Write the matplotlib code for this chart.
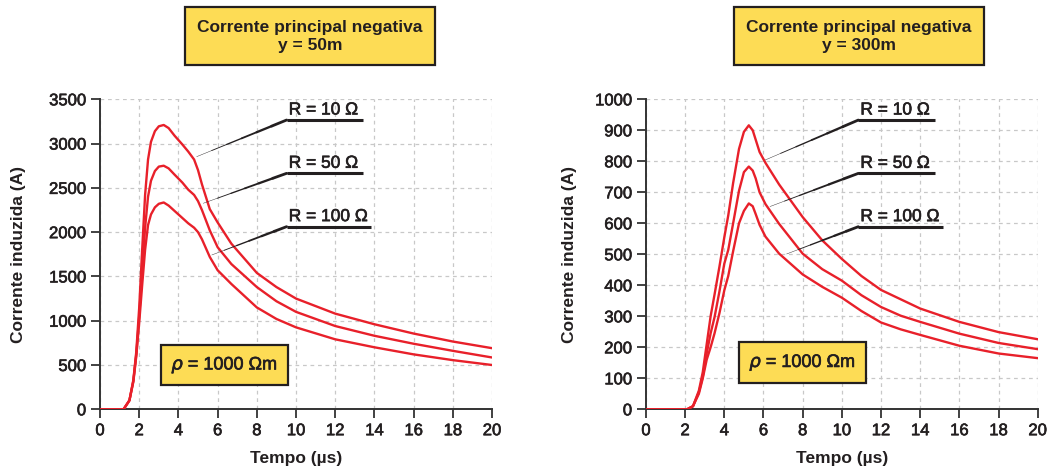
import matplotlib
matplotlib.use('Agg')
import numpy as np
import matplotlib.pyplot as plt
import matplotlib.patheffects as pe
from matplotlib.collections import LineCollection

plt.rcParams['font.family'] = ['Liberation Sans', 'DejaVu Sans']
plt.rcParams['mathtext.fontset'] = 'dejavusans'

RED = '#e8202a'
YELLOW = '#fddc55'
INK = '#231f20'
MEDIUM = [pe.withStroke(linewidth=0.45, foreground=INK)]

# ---- left panel: y = 50 m ----
t50 = [0, 1.2, 1.5, 1.7, 1.85, 2.0, 2.15, 2.3, 2.45, 2.6, 2.8, 3.0, 3.25, 3.5, 3.8, 4.2, 4.5, 4.8,
       5.0, 5.2, 5.6, 6.0, 6.7, 8, 9, 10, 12, 14, 16, 18, 20]
i50_r10 = [0, 0, 100, 330, 650, 1150, 1800, 2420, 2820, 3020, 3140, 3195, 3210, 3175, 3090, 2990, 2910, 2820,
           2700, 2540, 2260, 2110, 1870, 1540, 1380, 1250, 1080, 960, 855, 765, 690]
i50_r50 = [0, 0, 100, 320, 620, 1050, 1550, 2050, 2400, 2580, 2690, 2740, 2750, 2720, 2650, 2560, 2480, 2420,
           2350, 2250, 2020, 1830, 1640, 1380, 1220, 1100, 940, 830, 740, 660, 585]
i50_r100 = [0, 0, 100, 310, 600, 980, 1400, 1800, 2080, 2200, 2280, 2320, 2335, 2300, 2240, 2160, 2100, 2050,
            2000, 1920, 1720, 1570, 1415, 1150, 1020, 925, 790, 700, 620, 555, 500]

# ---- right panel: y = 300 m ----
t300 = [0, 2.1, 2.4, 2.7, 2.9, 3.1, 3.3, 3.5, 3.75, 4.0, 4.2, 4.45, 4.75, 5.0, 5.25, 5.45, 5.6, 5.8,
        6.1, 6.8, 8, 9, 10, 11, 12, 13, 14, 16, 18, 20]
i300_r10 = [0, 0, 10, 60, 120, 210, 300, 370, 460, 555, 625, 730, 840, 895, 916, 900, 870, 830,
            795, 725, 620, 545, 485, 430, 385, 355, 325, 282, 249, 226]
i300_r50 = [0, 0, 10, 55, 105, 180, 245, 297, 380, 470, 514, 600, 705, 765, 783, 770, 745, 700,
            662, 598, 502, 452, 415, 368, 330, 302, 282, 244, 214, 194]
i300_r100 = [0, 0, 10, 50, 100, 160, 200, 245, 310, 384, 430, 510, 600, 640, 664, 655, 630, 595,
             557, 502, 435, 395, 360, 317, 280, 258, 240, 205, 180, 165]

labels = ['R = 10 \u03a9', 'R = 50 \u03a9', 'R = 100 \u03a9']

fig = plt.figure(figsize=(10.55, 4.69), dpi=100)
ax1 = fig.add_axes([0.0948, 0.1273, 0.3716, 0.661])
ax2 = fig.add_axes([0.6123, 0.1273, 0.3713, 0.661])


def style_axes(ax, ymax, ystep):
    ax.set_xlim(0, 20)
    ax.set_ylim(0, ymax)
    ax.set_xticks(np.arange(0, 21, 2))
    ax.set_yticks(np.arange(0, ymax + 1, ystep))
    ax.grid(True, color='#c8c8c8', lw=0.9, ls=(0, (3, 3)))
    ax.set_axisbelow(True)
    for s in ['top', 'right']:
        ax.spines[s].set_visible(False)
    for s in ['left', 'bottom']:
        ax.spines[s].set_color('#333333')
        ax.spines[s].set_linewidth(1.4)
    ax.tick_params(direction='out', length=6.5, width=1.3, color='#333333',
                   labelsize=12, labelcolor=INK, pad=3.5)
    for lab in ax.get_xticklabels() + ax.get_yticklabels():
        lab.set_path_effects(MEDIUM)
    ax.set_xlabel('Tempo (\u00b5s)', fontsize=12.5, fontweight='bold', color=INK, labelpad=9)
    ax.set_ylabel('Corrente induzida (A)', fontsize=12.5, fontweight='bold', color=INK)


def callout(ax, p0, knee, xend, text):
    # tapered leader line: thin at the curve, heavy at the knee
    xs = np.linspace(p0[0], knee[0], 7)
    ys = np.linspace(p0[1], knee[1], 7)
    segs = [[(xs[i], ys[i]), (xs[i + 1], ys[i + 1])] for i in range(6)]
    lc = LineCollection(segs, colors=INK, linewidths=np.linspace(0.3, 2.0, 6),
                        capstyle='round', zorder=4)
    ax.add_collection(lc)
    ax.plot([knee[0], xend], [knee[1], knee[1]], color=INK, lw=2.2, zorder=4,
            solid_capstyle='butt')
    ax.annotate(text, xy=knee, xytext=(1.5, 4), textcoords='offset points',
                ha='left', va='baseline', fontsize=12.5, color=INK, zorder=5,
                path_effects=MEDIUM)


def rho_box(ax, x, y):
    ax.text(x, y, '$\\rho$ = 1000 \u03a9m', fontsize=13, color=INK,
            ha='center', va='center', zorder=5, path_effects=MEDIUM,
            bbox=dict(boxstyle='square,pad=0.55', fc=YELLOW, ec=INK, lw=1.6))


def title_box(ax, x, text):
    ax.text(x, 1.203, text, transform=ax.transAxes, ha='center', va='center',
            fontsize=12.5, fontweight='bold', color=INK, linespacing=1.3,
            bbox=dict(boxstyle='square,pad=0.7', fc=YELLOW, ec=INK, lw=1.6))


# left
style_axes(ax1, 3500, 500)
for ser in (i50_r10, i50_r50, i50_r100):
    ax1.plot(t50, ser, color=RED, lw=1.7, zorder=3, solid_joinstyle='round')
callout(ax1, (4.93, 2852), (9.52, 3266), 13.4, labels[0])
callout(ax1, (5.27, 2326), (9.52, 2664), 13.4, labels[1])
callout(ax1, (5.7, 1742), (9.52, 2062), 13.81, labels[2])
rho_box(ax1, 6.35, 500)
title_box(ax1, 0.536, 'Corrente principal negativa\ny = 50m')

# right
style_axes(ax2, 1000, 100)
for ser in (i300_r10, i300_r50, i300_r100):
    ax2.plot(t300, ser, color=RED, lw=1.7, zorder=3, solid_joinstyle='round')
callout(ax2, (6.08, 804), (10.84, 933), 14.76, labels[0])
callout(ax2, (6.33, 654), (10.84, 761), 14.76, labels[1])
callout(ax2, (7.18, 501), (10.84, 589), 15.18, labels[2])
rho_box(ax2, 7.99, 151)
title_box(ax2, 0.544, 'Corrente principal negativa\ny = 300m')

ax1.yaxis.set_label_coords(-0.19, 0.5)
ax2.yaxis.set_label_coords(-0.175, 0.5)

fig.savefig('out.png', dpi=100)
